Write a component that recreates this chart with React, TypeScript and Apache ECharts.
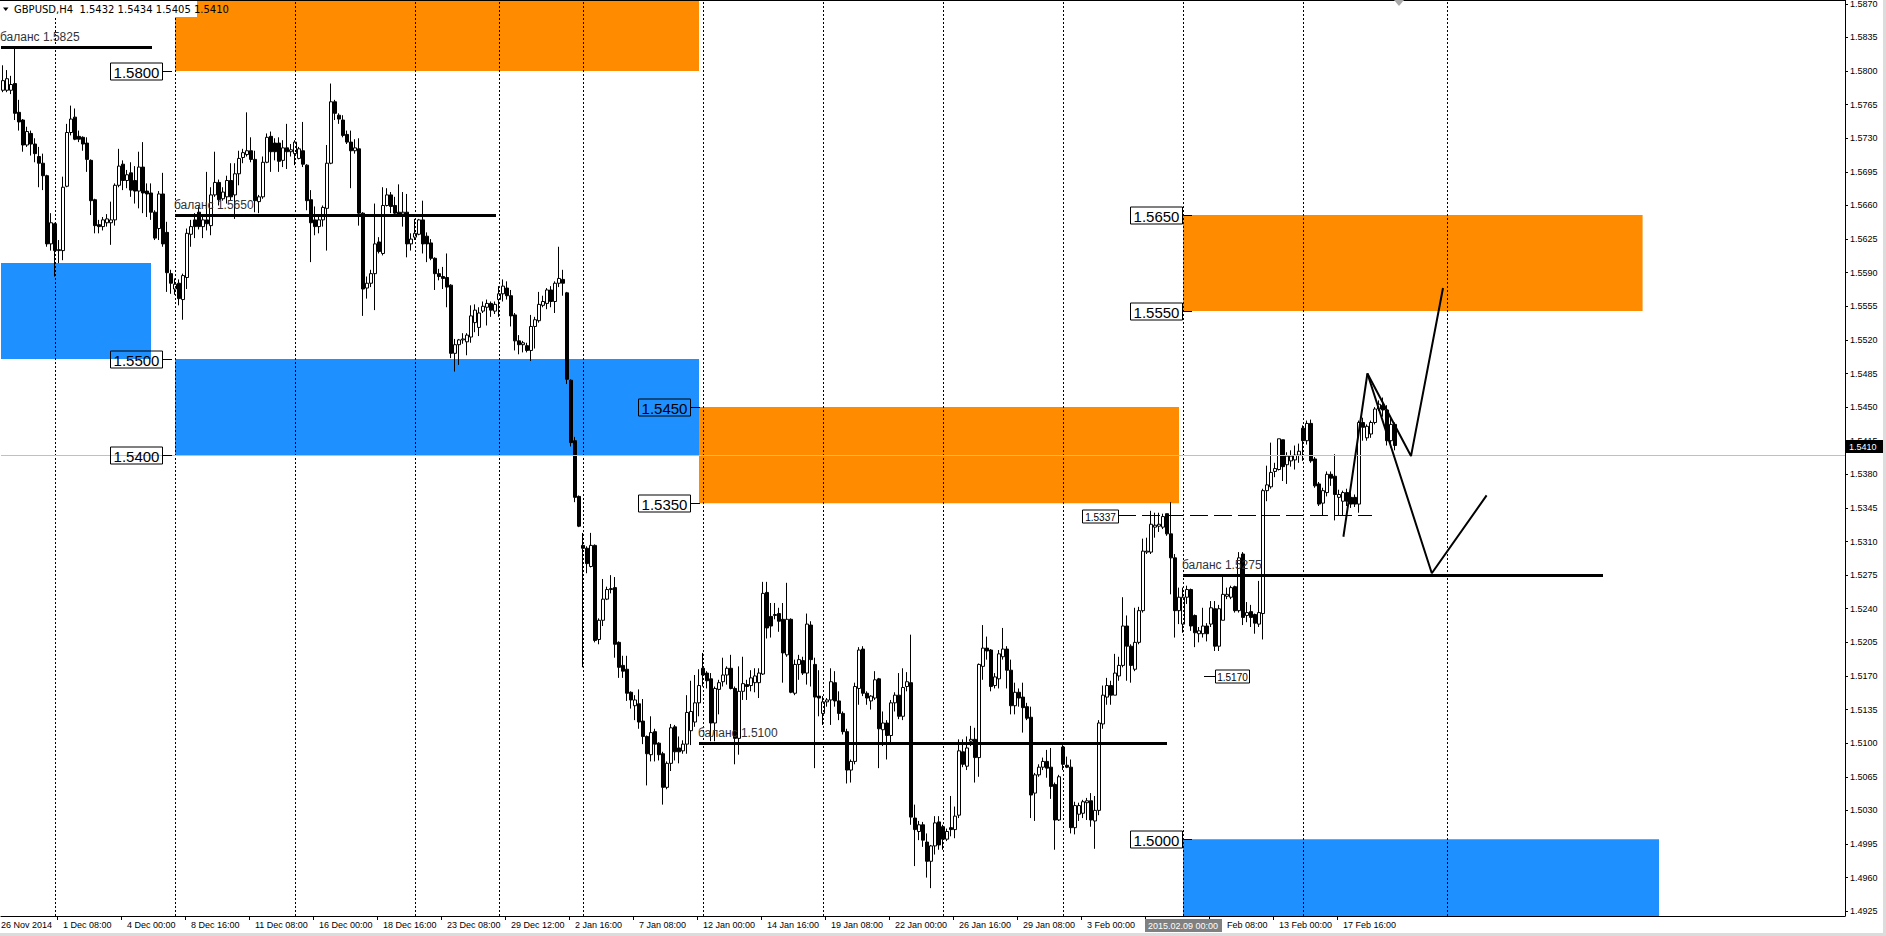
import React, { useEffect, useRef } from "react";
import * as echarts from "echarts";

// ---------------- data (prices in 1/10000, [open, close, low, high]) ----------------
const symbolTitle = "GBPUSD,H4";
const lastBarOHLC = [1.5432, 1.5434, 1.5405, 1.541];
const bidPrice = 1.541;

const wk_nov26 = [
  [15780,15790,15778,15806],[15780,15792,15778,15801],[15780,15786,15776,15795],[15787,15756,15749,15825],
  [15757,15747,15738,15770],[15749,15723,15716,15750],[15723,15737,15721,15742],[15735,15724,15712,15738],
  [15724,15714,15705,15730],[15711,15704,15679,15721],[15704,15691,15676,15714],[15691,15620,15617,15692],
  [15620,15642,15613,15652],
];
const wk_dec01 = [
  [15641,15613,15586,15642],[15613,15614,15600,15624],[15613,15679,15603,15690],[15680,15736,15679,15745],
  [15736,15750,15733,15764],[15752,15729,15728,15761],[15732,15729,15726,15738],[15731,15724,15717,15732],
  [15725,15708,15695,15731],[15707,15665,15650,15708],[15666,15639,15631,15667],[15640,15638,15631,15645],
  [15638,15645,15634,15648],[15642,15646,15638,15651],[15642,15645,15619,15664],[15645,15681,15639,15683],
  [15681,15701,15679,15719],[15703,15686,15676,15707],[15686,15692,15678,15697],[15694,15676,15669,15705],
  [15686,15675,15662,15701],[15675,15700,15657,15716],[15700,15673,15652,15726],[15675,15672,15648,15683],
  [15673,15653,15645,15683],[15653,15626,15624,15655],[15636,15672,15624,15675],[15672,15620,15617,15694],
  [15632,15590,15570,15643],[15589,15579,15568,15593],
];
const wk_dec08 = [
  [15573,15578,15567,15584],[15579,15563,15556,15583],[15562,15587,15541,15589],[15585,15631,15573,15636],
  [15630,15638,15617,15645],[15645,15638,15626,15652],[15653,15638,15635,15659],[15638,15645,15626,15648],
  [15645,15641,15634,15695],[15639,15671,15629,15679],[15671,15684,15669,15716],[15684,15666,15660,15687],
  [15667,15674,15665,15679],[15669,15686,15662,15691],[15686,15669,15665,15704],[15671,15693,15646,15704],
  [15693,15709,15681,15717],[15710,15715,15704,15719],[15713,15717,15711,15757],[15717,15708,15705,15731],
  [15708,15665,15653,15717],[15664,15669,15652,15671],[15669,15705,15667,15711],[15705,15731,15704,15735],
  [15732,15716,15695,15737],[15725,15716,15707,15730],[15725,15706,15695,15731],[15707,15720,15700,15728],
  [15720,15716,15698,15745],[15716,15718,15711,15724],
];
const wk_dec15 = [
  [15714,15726,15702,15728],[15709,15719,15708,15721],[15717,15703,15700,15747],[15702,15665,15655,15703],
  [15666,15642,15601,15676],[15645,15638,15629,15659],[15638,15645,15631,15650],[15645,15658,15638,15660],
  [15657,15704,15613,15723],[15704,15768,15703,15787],[15768,15756,15749,15770],[15754,15750,15745,15756],
  [15749,15733,15731,15754],[15734,15726,15724,15738],[15726,15717,15678,15738],[15717,15720,15714,15729],
  [15719,15652,15639,15730],[15652,15573,15545,15653],[15574,15579,15563,15586],[15579,15589,15575,15593],
  [15589,15620,15551,15662],[15622,15612,15610,15627],[15610,15660,15608,15679],[15660,15671,15659,15678],
  [15671,15659,15652,15674],[15660,15652,15650,15669],[15653,15651,15650,15682],[15651,15653,15638,15674],
  [15653,15620,15606,15672],[15620,15625,15613,15631],
];
const wk_dec22 = [
  [15627,15631,15624,15646],[15630,15645,15629,15646],[15645,15620,15610,15665],[15628,15620,15601,15632],
  [15621,15605,15603,15625],[15605,15589,15572,15606],[15589,15586,15582,15594],[15586,15584,15573,15596],
  [15585,15575,15554,15610],[15577,15506,15501,15578],[15506,15515,15487,15521],[15515,15520,15494,15521],
  [15520,15521,15516,15527],[15518,15525,15504,15527],[15523,15545,15517,15556],[15538,15551,15528,15557],
  [15533,15548,15524,15554],[15550,15555,15548,15560],[15554,15558,15535,15562],[15558,15551,15544,15560],
  [15550,15557,15547,15560],
];
const wk_dec29 = [
  [15562,15568,15544,15576],[15568,15576,15560,15583],[15574,15566,15562,15581],[15566,15545,15534,15572],
  [15546,15519,15509,15548],[15519,15515,15505,15525],[15515,15517,15507,15519],[15514,15509,15507,15517],
  [15509,15534,15498,15546],[15534,15541,15511,15544],[15540,15557,15538,15570],[15556,15560,15554,15566],
  [15558,15572,15552,15574],[15572,15560,15554,15576],[15560,15579,15548,15581],[15579,15584,15575,15617],
  [15583,15579,15566,15593],[15569,15479,15474,15570],[15478,15413,15409,15479],[15415,15356,15351,15419],
  [15357,15326,15325,15358],
];
const wk_jan05 = [
  [15306,15303,15179,15319],[15303,15287,15277,15305],[15284,15306,15283,15319],[15306,15207,15205,15307],
  [15208,15228,15203,15230],[15228,15250,15222,15271],[15250,15260,15249,15263],[15260,15261,15256,15275],
  [15262,15203,15189,15273],[15205,15179,15168,15206],[15181,15175,15168,15191],[15177,15152,15144,15191],
  [15153,15145,15136,15154],[15139,15145,15124,15150],[15141,15122,15115,15156],[15123,15107,15099,15146],
  [15107,15089,15056,15108],[15088,15111,15081,15128],[15112,15099,15081,15115],[15100,15088,15082,15101],
  [15089,15054,15036,15091],[15054,15079,15052,15081],[15079,15116,15071,15120],[15117,15091,15082,15119],
  [15095,15091,15079,15107],[15092,15099,15089,15103],[15099,15132,15089,15150],[15113,15133,15098,15165],
  [15122,15142,15117,15171],[15142,15160,15128,15177],
];
const wk_jan12 = [
  [15178,15171,15159,15194],[15173,15165,15157,15175],[15167,15121,15102,15173],[15121,15157,15102,15159],
  [15156,15163,15130,15166],[15164,15171,15159,15189],[15171,15178,15161,15180],[15178,15157,15156,15192],
  [15157,15105,15078,15159],[15105,15154,15088,15180],[15154,15162,15145,15190],[15161,15159,15145,15166],
  [15160,15168,15154,15176],[15163,15170,15153,15178],[15163,15173,15147,15178],[15172,15256,15171,15268],
  [15257,15220,15209,15268],[15232,15222,15210,15246],[15233,15234,15229,15246],[15235,15227,15216,15241],
  [15229,15194,15163,15246],[15192,15229,15190,15267],[15229,15153,15152,15230],[15152,15182,15150,15187],
  [15182,15187,15166,15192],[15186,15173,15171,15190],[15173,15224,15161,15235],[15223,15187,15159,15227],
  [15182,15148,15074,15189],[15149,15147,15128,15176],
];
const wk_jan19 = [
  [15131,15143,15119,15149],[15143,15145,15138,15147],[15145,15164,15119,15178],[15163,15144,15138,15175],
  [15144,15131,15124,15154],[15131,15112,15109,15133],[15112,15072,15058,15115],[15072,15081,15059,15083],
  [15081,15159,15078,15163],[15157,15197,15140,15200],[15198,15152,15149,15201],[15152,15147,15140,15154],
  [15144,15149,15135,15150],[15147,15166,15145,15175],[15167,15115,15074,15168],[15114,15121,15097,15133],
  [15121,15108,15083,15124],[15108,15142,15100,15145],[15142,15150,15133,15153],[15150,15128,15125,15173],
  [15128,15158,15124,15178],[15159,15164,15154,15174],[15163,15023,15015,15213],[15022,15010,14972,15036],
  [15008,15015,14999,15019],[15015,14999,14992,15018],[14997,14977,14960,15006],[14977,14993,14949,14994],
  [14993,15017,14984,15024],[15018,14994,14989,15024],
];
const wk_jan26 = [
  [15013,15000,14989,15015],[15000,15008,14998,15011],[15012,15010,15003,15045],[15010,15024,15001,15034],
  [15025,15092,15022,15104],[15091,15078,15075,15104],[15076,15095,15072,15107],[15102,15104,15097,15118],
  [15104,15085,15059,15116],[15085,15182,15065,15183],[15180,15199,15166,15223],[15199,15196,15187,15211],
  [15197,15159,15154,15198],[15160,15169,15157,15173],[15167,15193,15157,15197],[15190,15198,15187,15220],
  [15198,15176,15157,15201],[15176,15139,15130,15187],[15139,15153,15130,15163],[15153,15147,15138,15157],
  [15148,15137,15111,15163],[15138,15126,15124,15142],[15127,15046,15022,15138],[15048,15067,15019,15069],
  [15067,15075,15065,15078],[15075,15081,15072,15085],[15081,15074,15064,15093],[15075,15055,15042,15095],
  [15057,15020,14989,15059],[15020,15065,15019,15067],
];
const wk_feb02 = [
  [15096,15078,15072,15098],[15077,15075,15074,15086],[15075,15012,15006,15083],[15012,15035,15005,15039],
  [15026,15035,15019,15038],[15027,15039,15022,15041],[15038,15040,15020,15043],[15040,15020,15013,15048],
  [15019,15030,14990,15045],[15030,15121,15025,15124],[15120,15150,15115,15160],[15148,15160,15140,15168],
  [15160,15150,15140,15165],[15150,15173,15150,15193],[15170,15181,15165,15190],[15181,15222,15179,15252],
  [15222,15201,15165,15233],[15201,15181,15163,15203],[15177,15205,15175,15241],[15205,15238,15203,15242],
  [15238,15300,15236,15313],[15299,15300,15297,15314],[15299,15328,15297,15342],[15325,15327,15314,15340],
  [15326,15328,15320,15340],[15325,15336,15323,15339],[15339,15318,15316,15339],[15318,15293,15255,15351],
  [15293,15238,15210,15297],[15238,15252,15224,15262],
];
const wk_feb09 = [
  [15224,15252,15215,15262],[15252,15260,15245,15264],[15260,15222,15217,15261],[15233,15215,15200,15234],
  [15214,15217,15205,15221],[15214,15222,15210,15241],[15222,15214,15206,15225],[15224,15241,15221,15248],
  [15240,15201,15196,15248],[15201,15240,15196,15244],[15228,15255,15228,15274],[15253,15255,15250,15262],
  [15252,15262,15250,15264],[15263,15238,15236,15264],[15238,15293,15236,15299],[15297,15231,15223,15299],
  [15233,15236,15226,15247],[15237,15231,15221,15244],[15234,15225,15214,15235],[15224,15236,15221,15269],
  [15235,15363,15208,15365],[15363,15369,15352,15389],[15367,15382,15365,15413],[15383,15386,15377,15392],
  [15385,15417,15384,15417],[15416,15388,15373,15416],[15390,15399,15370,15403],[15394,15399,15388,15405],
  [15395,15400,15385,15410],[15400,15404,15392,15412],
];
const wk_feb16 = [
  [15428,15415,15394,15431],[15415,15433,15411,15436],[15433,15394,15392,15437],[15396,15368,15366,15398],
  [15370,15349,15347,15372],[15350,15363,15337,15366],[15361,15380,15357,15383],[15380,15376,15368,15383],
  [15378,15359,15332,15401],[15356,15359,15337,15364],[15352,15361,15337,15363],[15361,15352,15347,15365],
  [15356,15349,15345,15361],[15356,15349,15346,15359],[15349,15434,15340,15436],[15434,15429,15415,15439],
  [15418,15430,15415,15432],[15422,15434,15418,15436],[15434,15448,15432,15450],[15448,15453,15446,15457],
  [15452,15447,15440,15460],[15447,15415,15410,15452],[15415,15432,15408,15440],[15432,15410,15405,15434],
];

const candles = [
  ...wk_nov26, ...wk_dec01, ...wk_dec08, ...wk_dec15, ...wk_dec22, ...wk_dec29, ...wk_jan05,
  ...wk_jan12, ...wk_jan19, ...wk_jan26, ...wk_feb02, ...wk_feb09, ...wk_feb16,
];

// time axis labels (bar slot -> visible text)
const timeLabels = [
  "26 Nov 2014", "1 Dec 08:00", "4 Dec 00:00", "8 Dec 16:00", "11 Dec 08:00", "16 Dec 00:00",
  "18 Dec 16:00", "23 Dec 08:00", "29 Dec 12:00", "2 Jan 16:00", "7 Jan 08:00", "12 Jan 00:00",
  "14 Jan 16:00", "19 Jan 08:00", "22 Jan 00:00", "26 Jan 16:00", "29 Jan 08:00", "3 Feb 00:00",
  "Feb 08:00", "13 Feb 00:00", "17 Feb 16:00",
];
const timeLabelSlots = [-0.5, 15, 31, 47, 63, 79, 95, 111, 127, 143, 159, 175, 191, 207, 223, 239, 255, 271, 306, 319, 335];
const timeTickSlots = [15, 31, 47, 63, 79, 95, 111, 127, 143, 159, 175, 191, 207, 223, 239, 255, 271, 287, 303, 319, 335];

// price axis tick labels
const priceTicks = [
  1.4925, 1.496, 1.4995, 1.503, 1.5065, 1.51, 1.5135, 1.517, 1.5205, 1.524, 1.5275, 1.531, 1.5345, 1.538,
  1.5415, 1.545, 1.5485, 1.552, 1.5555, 1.559, 1.5625, 1.566, 1.5695, 1.573, 1.5765, 1.58, 1.5835, 1.587,
];

// weekly period separators (bar slots)
const weekSeparators = [13, 43, 73, 103, 124, 145, 175, 205, 235, 265, 295, 325, 361];
const cursorSlot = 295;
const cursorLabel = "2015.02.09 00:00";
const shiftSlot = 349;

// supply / demand zones
const zoneStart = [-0.5, 43, 43, 174, 295, 295];
const zoneEnd = [37, 174, 174, 294, 409.9, 414];
const zoneLow = [1.55, 1.58, 1.54, 1.535, 1.555, 1.492];
const zoneHigh = [1.56, 1.5874, 1.55, 1.545, 1.565, 1.5];
const zoneKind = ["buy", "sell", "buy", "sell", "sell", "buy"];

// "баланс" levels
const balanceLevels = [1.5825, 1.565, 1.51, 1.5275];
const balanceStart = [-0.5, 43, 174, 295];
const balanceEnd = [37.25, 123.25, 291, 400];

// price label objects
const labelPrices = [1.58, 1.55, 1.54, 1.545, 1.535, 1.565, 1.555, 1.5];
const labelAnchors = [42.25, 42.25, 42.25, 174.25, 174.25, 297.25, 297.25, 297.25];
const dashedLevel = 1.5337;
const dashedStart = 278.75;
const dashedEnd = 342.25;
const lowLabelPrice = 1.517;
const lowLabelAnchor = 300.25;

// hand-drawn projection lines
const zigA_x = [335.1, 341.1, 352, 360];
const zigA_y = [1.5315, 1.5485, 1.5399, 1.5574];
const zigB_x = [341.1, 357.2, 370.9];
const zigB_y = [1.5485, 1.5277, 1.5358];

const Y_MIN = 1.492;
const Y_MAX = 1.5874;

export default function App() {
  const ref = useRef<HTMLDivElement | null>(null);

  useEffect(() => {
    document.body.style.margin = "0";
    const el = ref.current!;
    const chart = echarts.init(el, null, { renderer: "svg" });
    const FONT = "Liberation Sans";

    const candleData = candles.map((c, i) => [i, c[0] / 1e4, c[1] / 1e4, c[2] / 1e4, c[3] / 1e4]);
    const labelMap = new Map<number, string>(timeLabelSlots.map((s, i) => [s, timeLabels[i]]));
    const zoneColor: Record<string, string> = { sell: "#FF8C00", buy: "#1E90FF" };

    const option: any = {
      animation: false,
      backgroundColor: "#ffffff",
      grid: { left: 1, right: 41, top: 0, bottom: 20, containLabel: false, outerBoundsMode: "none" },
      xAxis: {
        type: "value",
        min: -0.5,
        max: 460.5,
        axisLine: { show: true, onZero: false, lineStyle: { color: "#000", width: 1 } },
        axisTick: { show: true, customValues: timeTickSlots.map((s) => s - 1.5), length: 4, lineStyle: { color: "#000" } },
        axisLabel: {
          show: true,
          customValues: timeLabelSlots,
          formatter: (v: number) => labelMap.get(v) ?? "",
          align: "left",
          margin: 4,
          fontSize: 9,
          fontFamily: FONT,
          color: "#000",
        },
        splitLine: { show: false },
      },
      yAxis: {
        type: "value",
        position: "right",
        min: Y_MIN,
        max: Y_MAX,
        axisLine: { show: true, onZero: false, lineStyle: { color: "#000", width: 1 } },
        axisTick: { show: true, customValues: priceTicks, length: 3, lineStyle: { color: "#000" } },
        axisLabel: {
          customValues: priceTicks,
          formatter: (v: number) => v.toFixed(4),
          fontSize: 9,
          fontFamily: FONT,
          color: "#000",
          margin: 5,
        },
        splitLine: { show: false },
      },
      series: [
        {
          name: "zones",
          type: "line",
          data: [],
          z: 1,
          silent: true,
          markArea: {
            silent: true,
            data: zoneStart.map((s, i) => [
              { coord: [s, zoneLow[i]], itemStyle: { color: zoneColor[zoneKind[i]], opacity: 1, borderWidth: 0 } },
              { coord: [zoneEnd[i], zoneHigh[i]] },
            ]),
          },
        },
        {
          name: "separators",
          type: "line",
          data: [],
          z: 2,
          silent: true,
          markLine: {
            silent: true,
            symbol: ["none", "none"],
            label: { show: false },
            data: [
              ...weekSeparators.map((s) => ({ xAxis: s, lineStyle: { color: "#000", width: 1, type: [2, 2] } })),
              { yAxis: bidPrice, lineStyle: { color: "#C0C0C0", width: 1, type: "solid" } },
            ],
          },
        },
        {
          name: symbolTitle,
          type: "candlestick",
          z: 3,
          barWidth: 3,
          dimensions: ["slot", "open", "close", "lowest", "highest"],
          encode: { x: "slot", y: ["open", "close", "lowest", "highest"] },
          data: candleData,
          itemStyle: {
            color: "#ffffff",
            color0: "#000000",
            borderColor: "#000000",
            borderColor0: "#000000",
            borderColorDoji: "#000000",
            borderWidth: 1,
          },
        },
        {
          name: "levels",
          type: "line",
          data: [],
          z: 4,
          silent: true,
          markLine: {
            silent: true,
            symbol: ["none", "none"],
            label: { show: false },
            data: [
              ...balanceLevels.map((p, i) => [
                { coord: [balanceStart[i], p], lineStyle: { color: "#000", width: 3, type: "solid" } },
                { coord: [balanceEnd[i], p] },
              ]),
              [
                { coord: [dashedStart, dashedLevel], lineStyle: { color: "#000", width: 1, type: [18, 6] } },
                { coord: [dashedEnd, dashedLevel] },
              ],
            ],
          },
        },
        {
          name: "projA",
          type: "line",
          z: 5,
          silent: true,
          symbol: "none",
          data: zigA_x.map((x, i) => [x, zigA_y[i]]),
          lineStyle: { color: "#000", width: 2 },
        },
        {
          name: "projB",
          type: "line",
          z: 5,
          silent: true,
          symbol: "none",
          data: zigB_x.map((x, i) => [x, zigB_y[i]]),
          lineStyle: { color: "#000", width: 2 },
        },
      ],
    };

    chart.setOption(option);

    const px = (s: number, p: number) => chart.convertToPixel({ gridIndex: 0 }, [s, p]) as number[];
    const crisp = (v: number) => Math.round(v) + 0.5;
    const g: any[] = [];

    // top border of chart window
    g.push({ type: "line", silent: true, z: 100, shape: { x1: 0, y1: 0.5, x2: 1845.5, y2: 0.5 }, style: { stroke: "#000", lineWidth: 1 } });

    // balance texts
    balanceLevels.forEach((p, i) => {
      const [x, y] = px(balanceStart[i], p);
      g.push({
        type: "text", silent: true, z: 100,
        x: Math.max(0, x - 1), y: y - 10,
        style: { text: "баланс " + p.toFixed(4), fill: "#333333", fontSize: 12, fontFamily: FONT, align: "left", verticalAlign: "middle" },
      });
    });

    // price label boxes (left of anchor)
    labelPrices.forEach((p, i) => {
      const [ax, ayRaw] = px(labelAnchors[i], p);
      const ay = crisp(ayRaw);
      const right = Math.round(ax - 10.5) + 0.5;
      g.push({ type: "line", silent: true, z: 100, shape: { x1: right, y1: ay, x2: ax, y2: ay }, style: { stroke: "#000", lineWidth: 1 } });
      g.push({ type: "rect", silent: true, z: 100, shape: { x: right - 52, y: ay - 8.5, width: 52, height: 17 }, style: { fill: "none", stroke: "#000", lineWidth: 1 } });
      g.push({
        type: "text", silent: true, z: 101, x: right - 26, y: ay + 0.5,
        style: { text: p.toFixed(4), fill: "#000", fontSize: 15, fontFamily: FONT, align: "center", verticalAlign: "middle" },
      });
    });

    // small label at the dashed level
    {
      const [bx, byRaw] = px(dashedStart, dashedLevel);
      const by = crisp(byRaw);
      const right = Math.round(bx) + 0.5;
      g.push({ type: "rect", silent: true, z: 100, shape: { x: right - 36, y: by - 6.5, width: 36, height: 13 }, style: { fill: "#fff", stroke: "#000", lineWidth: 1 } });
      g.push({
        type: "text", silent: true, z: 101, x: right - 18, y: by + 0.5,
        style: { text: dashedLevel.toFixed(4), fill: "#000", fontSize: 10, fontFamily: FONT, align: "center", verticalAlign: "middle" },
      });
    }
    // small label at the low
    {
      const [lx, lyRaw] = px(lowLabelAnchor, lowLabelPrice);
      const ly = crisp(lyRaw);
      const left = Math.round(lx + 11) + 0.5;
      g.push({ type: "line", silent: true, z: 100, shape: { x1: lx, y1: ly, x2: left, y2: ly }, style: { stroke: "#000", lineWidth: 1 } });
      g.push({ type: "rect", silent: true, z: 100, shape: { x: left, y: ly - 6.5, width: 34, height: 13 }, style: { fill: "#fff", stroke: "#000", lineWidth: 1 } });
      g.push({
        type: "text", silent: true, z: 101, x: left + 17, y: ly + 0.5,
        style: { text: lowLabelPrice.toFixed(4), fill: "#000", fontSize: 10, fontFamily: FONT, align: "center", verticalAlign: "middle" },
      });
    }

    // header
    g.push({ type: "rect", silent: true, z: 100, shape: { x: 0, y: 0, width: 197, height: 17 }, style: { fill: "#fff" } });
    g.push({ type: "line", silent: true, z: 100, shape: { x1: 0, y1: 0.5, x2: 197, y2: 0.5 }, style: { stroke: "#000", lineWidth: 1 } });
    g.push({ type: "polygon", silent: true, z: 101, shape: { points: [[3, 7.5], [8.5, 7.5], [5.75, 11]] }, style: { fill: "#000" } });
    g.push({
      type: "text", silent: true, z: 101, x: 14, y: 9.5,
      style: {
        text: symbolTitle + "  " + lastBarOHLC.map((v) => v.toFixed(4)).join(" "),
        fill: "#000", fontSize: 10, fontFamily: "DejaVu Sans", align: "left", verticalAlign: "middle",
      },
    });

    // bid price box on the price axis
    {
      const by = px(0, bidPrice)[1];
      g.push({ type: "rect", silent: true, z: 100, shape: { x: 1846, y: Math.round(by) - 6, width: 37, height: 13 }, style: { fill: "#000" } });
      g.push({
        type: "text", silent: true, z: 101, x: 1849, y: Math.round(by) + 0.5,
        style: { text: bidPrice.toFixed(4), fill: "#fff", fontSize: 9, fontFamily: FONT, align: "left", verticalAlign: "middle" },
      });
    }

    // cursor date highlight on time axis
    {
      const cx = px(cursorSlot, Y_MIN)[0];
      g.push({ type: "rect", silent: true, z: 100, shape: { x: Math.round(cx - 38.5), y: 919, width: 77, height: 13 }, style: { fill: "#808080" } });
      g.push({
        type: "text", silent: true, z: 101, x: cx, y: 925.5,
        style: { text: cursorLabel, fill: "#fff", fontSize: 9, fontFamily: FONT, align: "center", verticalAlign: "middle" },
      });
    }

    // chart shift marker
    {
      const sx = px(shiftSlot, Y_MAX)[0];
      g.push({ type: "polygon", silent: true, z: 100, shape: { points: [[sx - 5, 0], [sx + 5, 0], [sx, 6]] }, style: { fill: "#A9A9A9" } });
    }

    // window frame
    g.push({ type: "rect", silent: true, z: 100, shape: { x: 1883, y: 0, width: 3, height: 936 }, style: { fill: "#DCDCDC" } });
    g.push({ type: "rect", silent: true, z: 100, shape: { x: 0, y: 933, width: 1886, height: 3 }, style: { fill: "#DCDCDC" } });

    chart.setOption({ graphic: g });

    return () => {
      chart.dispose();
    };
  }, []);

  return (
    <div
      ref={ref}
      style={{ position: "fixed", left: 0, top: 0, width: 1886, height: 936, background: "#fff" }}
    />
  );
}
